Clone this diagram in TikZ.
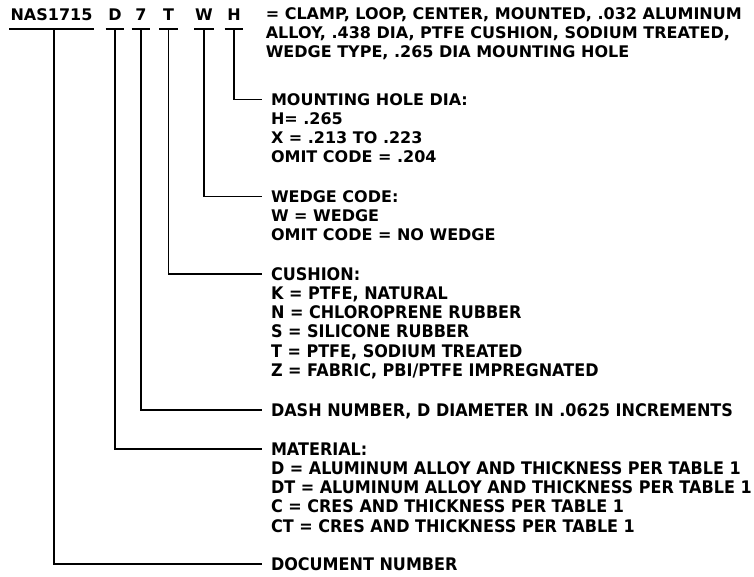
\documentclass[tikz,border=0pt]{standalone}
\usepackage{fontspec}
\setmainfont{DejaVu Sans}
\newfontfamily\lowfont[FakeStretch=0.925]{DejaVu Sans}
\begin{document}
\begin{tikzpicture}[x=0.75pt,y=-0.75pt,line width=1.2pt,
  font=\fontsize{12pt}{14pt}\selectfont\bfseries,
  code/.style={anchor=base,inner xsep=0pt,inner ysep=0pt,text depth=6pt,minimum width=13pt},
  head/.style={anchor=west,inner sep=0pt,text height=8.75pt,text depth=0pt},
  desc/.style={anchor=west,inner sep=0pt,outer xsep=6.75pt,text height=8.75pt,text depth=0pt},
  low/.style={desc,font=\fontsize{13pt}{15pt}\lowfont\bfseries,text height=9.5pt}]
\useasboundingbox (0,0) rectangle (754,576);
% code row
\node[code,minimum width=62.25pt] (cN) at (51.5,20) {NAS1715};
\node[code] (cD) at (115,20) {D};
\node[code] (c7) at (141,20) {7};
\node[code] (cT) at (168.5,20) {T};
\node[code] (cW) at (204,20) {W};
\node[code] (cH) at (234,20) {H};
\foreach \n in {cN,cD,c7,cT,cW,cH}
  \draw (\n.south west) -- (\n.south east);
% title description
\node[head] (t1) at (265,14) {= CLAMP, LOOP, CENTER, MOUNTED, .032 ALUMINUM};
\node[head] (t2) at (265,33) {ALLOY, .438 DIA, PTFE CUSHION, SODIUM TREATED,};
\node[head] (t3) at (265,52) {WEDGE TYPE, .265 DIA MOUNTING HOLE};
% mounting hole
\node[desc] (mhd) at (262,99.5) {MOUNTING HOLE DIA:};
\node[desc] (mh1) at (262,118.7) {H= .265};
\node[desc] (mh2) at (262,137.9) {X = .213 TO .223};
\node[desc] (mh3) at (262,157.1) {OMIT CODE = .204};
% wedge
\node[desc] (wed) at (262,196.5) {WEDGE CODE:};
\node[desc] (we1) at (262,215.7) {W = WEDGE};
\node[desc] (we2) at (262,234.9) {OMIT CODE = NO WEDGE};
% cushion
\node[low] (cus) at (262,274) {CUSHION:};
\node[low] (cu1) at (262,293.2) {K = PTFE, NATURAL};
\node[low] (cu2) at (262,312.4) {N = CHLOROPRENE RUBBER};
\node[low] (cu3) at (262,331.6) {S = SILICONE RUBBER};
\node[low] (cu4) at (262,350.8) {T = PTFE, SODIUM TREATED};
\node[low] (cu5) at (262,370) {Z = FABRIC, PBI/PTFE IMPREGNATED};
% dash
\node[low] (dash) at (262,410) {DASH NUMBER, D DIAMETER IN .0625 INCREMENTS};
% material
\node[low] (mat) at (262,449) {MATERIAL:};
\node[low] (ma1) at (262,468.2) {D = ALUMINUM ALLOY AND THICKNESS PER TABLE 1};
\node[low] (ma2) at (262,487.4) {DT = ALUMINUM ALLOY AND THICKNESS PER TABLE 1};
\node[low] (ma3) at (262,506.6) {C = CRES AND THICKNESS PER TABLE 1};
\node[low] (ma4) at (262,525.8) {CT = CRES AND THICKNESS PER TABLE 1};
% document
\node[low] (doc) at (262,564) {DOCUMENT NUMBER};
% connectors
\draw ([xshift=1.9pt]cN.south) |- (doc.west);
\draw (cD.south) |- (mat.west);
\draw (c7.south) |- (dash.west);
\draw (cT.south) |- (cus.west);
\draw (cW.south) |- (wed.west);
\draw (cH.south) |- (mhd.west);
\end{tikzpicture}
\end{document}
